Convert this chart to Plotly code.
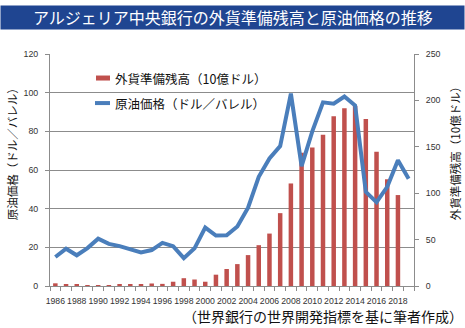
import plotly.graph_objects as go

# Algeria: central bank foreign reserves (10 billion USD units) and crude oil price
years = list(range(1986, 2020))
oil_price = [15.0, 19.3, 15.9, 19.6, 24.5, 21.8, 20.6, 18.8, 17.4, 18.6,
             22.3, 20.6, 14.4, 19.5, 30.2, 26.1, 26.2, 30.8, 40.5, 56.5,
             66.0, 72.4, 99.5, 62.0, 80.0, 95.0, 94.3, 98.0, 93.4, 48.7,
             43.4, 51.3, 65.1, 55.5]
reserves = [2.9, 1.8, 1.8, 0.8, 0.5, 0.5, 1.6, 1.6, 1.8, 2.7,
            2.3, 4.6, 8.4, 7.0, 4.6, 12.2, 18.3, 23.6, 33.3, 44.0,
            56.5, 78.5, 110.5, 143.5, 149.3, 163.0, 183.0, 191.5, 194.0, 180.0,
            144.6, 115.0, 98.0, None]

title_text = "アルジェリア中央銀行の外貨準備残高と原油価格の推移"
bar_name = "外貨準備残高（10億ドル）"
line_name = "原油価格（ドル／バレル）"
left_title = "原油価格（ドル／バレル）"
right_title = "外貨準備残高（10億ドル）"
source_text = "（世界銀行の世界開発指標を基に筆者作成）"

W, H = 465, 328
L, R, T, B = 50, 414, 54, 285.7

BAR_COLOR = "#C0504D"
LINE_COLOR = "#4A7EBB"
GRID = "#8C8C8C"
CJK = "Noto Sans CJK JP"
NUM = "Liberation Sans, Arial"


def px_x(px):
    return (px - L) / (R - L)


def px_y(py):
    return (B - py) / (B - T)


fig = go.Figure()

# bars on the right-hand scale (base axis), price line on the overlaid left scale
fig.add_bar(x=years, y=reserves, yaxis="y", marker=dict(color=BAR_COLOR, line_width=0),
            width=0.42, name=bar_name, showlegend=False)
fig.add_scatter(x=years, y=oil_price, yaxis="y2", mode="lines",
                line=dict(color=LINE_COLOR, width=4), name=line_name, showlegend=False)

fig.update_layout(
    width=W, height=H,
    margin=dict(l=L, r=W - R, t=T, b=H - B, pad=0),
    paper_bgcolor="white", plot_bgcolor="white",
    xaxis=dict(
        range=[1985.5, 2019.5], tickmode="linear", tick0=1986, dtick=2,
        ticks="", tickangle=0, showgrid=False, zeroline=False,
        showline=True, linecolor=GRID, linewidth=1,
        tickfont=dict(family=NUM, size=8.7, color="#333333"),
        ticklabelstandoff=7,
        minor=dict(tick0=1985.5, dtick=1, ticks="outside", ticklen=4,
                   tickcolor=GRID, tickwidth=1, showgrid=False),
    ),
    yaxis=dict(
        range=[0, 250], tickmode="linear", tick0=0, dtick=50, side="right",
        showgrid=False, zeroline=False, showline=True, linecolor=GRID,
        ticks="outside", ticklen=4, tickcolor=GRID,
        tickfont=dict(family=NUM, size=8.8, color="#333333"),
        ticklabelstandoff=5,
    ),
    yaxis2=dict(
        range=[0, 120], tickmode="linear", tick0=0, dtick=20, side="left",
        overlaying="y", showgrid=True, gridcolor=GRID, gridwidth=1,
        zeroline=False, showline=True, linecolor=GRID,
        ticks="outside", ticklen=4, tickcolor=GRID,
        tickfont=dict(family=NUM, size=8.8, color="#333333"),
        ticklabelstandoff=5,
    ),
)

shapes = [
    # title banner
    dict(type="rect", xref="paper", yref="paper",
         x0=px_x(0.5), x1=px_x(464.5), y0=px_y(29.5), y1=px_y(5.5),
         fillcolor="#1F4591", line_width=0, layer="below"),
    # legend keys
    dict(type="rect", xref="paper", yref="paper",
         x0=px_x(96), x1=px_x(110), y0=px_y(80.5), y1=px_y(75.5),
         fillcolor=BAR_COLOR, line_width=0),
    dict(type="line", xref="paper", yref="paper",
         x0=px_x(95), x1=px_x(110), y0=px_y(103), y1=px_y(103),
         line=dict(color=LINE_COLOR, width=4)),
]

annotations = [
    dict(text=title_text, xref="paper", yref="paper", x=px_x(232.5), y=px_y(17.5),
         xanchor="center", yanchor="middle", showarrow=False,
         font=dict(family=CJK, size=16, color="white")),
    dict(text=bar_name, xref="paper", yref="paper", x=px_x(113), y=px_y(78),
         xanchor="left", yanchor="middle", showarrow=False,
         font=dict(family=CJK, size=12.5, color="#111111")),
    dict(text=line_name, xref="paper", yref="paper", x=px_x(113), y=px_y(103),
         xanchor="left", yanchor="middle", showarrow=False,
         font=dict(family=CJK, size=12.5, color="#111111")),
    dict(text=left_title, xref="paper", yref="paper", x=px_x(12), y=px_y(151),
         xanchor="center", yanchor="middle", textangle=-90, showarrow=False,
         font=dict(family=CJK, size=11.5, color="#111111")),
    dict(text=right_title, xref="paper", yref="paper", x=px_x(455), y=px_y(151),
         xanchor="center", yanchor="middle", textangle=-90, showarrow=False,
         font=dict(family=CJK, size=11.5, color="#111111")),
    dict(text=source_text, xref="paper", yref="paper", x=px_x(323), y=px_y(316),
         xanchor="center", yanchor="middle", showarrow=False,
         font=dict(family=CJK, size=14, color="#111111")),
]

fig.update_layout(shapes=shapes, annotations=annotations)

fig.write_html("out.html")
